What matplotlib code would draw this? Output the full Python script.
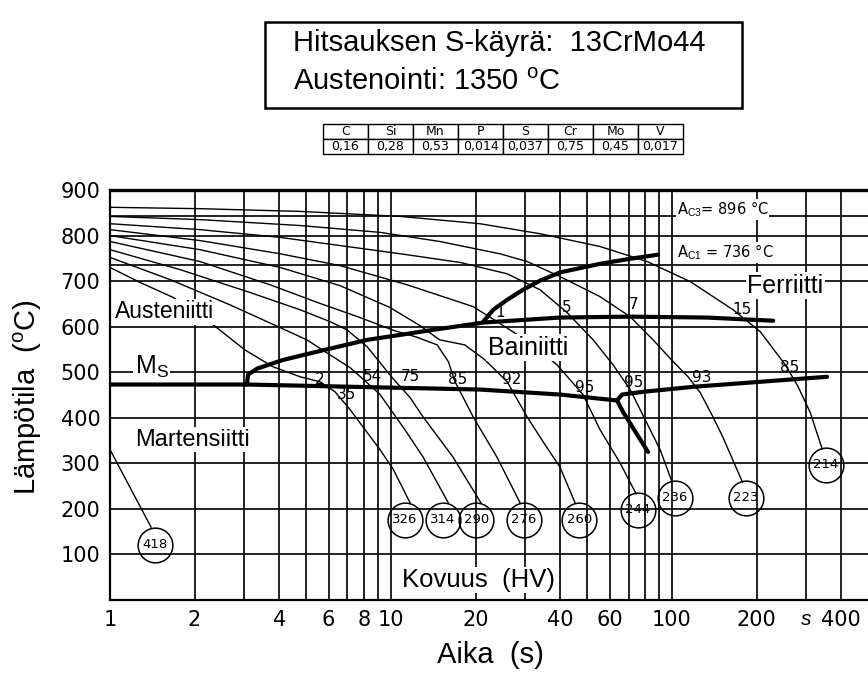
import matplotlib.pyplot as plt
from matplotlib.patches import Rectangle
from matplotlib.ticker import NullLocator

plt.rcParams['font.family'] = ['Liberation Sans', 'DejaVu Sans']
plt.rcParams['mathtext.fontset'] = 'custom'
plt.rcParams['mathtext.rm'] = 'Liberation Sans'
plt.rcParams['mathtext.it'] = 'Liberation Sans:italic'

title1 = 'Hitsauksen S-käyrä:  13CrMo44'
title2 = 'Austenointi: 1350 $^{\\rm o}$C'
elements = ['C', 'Si', 'Mn', 'P', 'S', 'Cr', 'Mo', 'V']
contents = ['0,16', '0,28', '0,53', '0,014', '0,037', '0,75', '0,45', '0,017']

# cooling curves, time (s) / temperature (C), ending at the hardness circle
c418_t = [1.0, 1.40]
c418_T = [330, 160]
c326_t = [1.0, 1.28, 1.68, 2.33, 3.02, 3.80, 4.75, 5.59, 6.32, 7.15, 8.08, 9.14, 10.2, 11.7]
c326_T = [730, 697, 664, 604, 549, 512, 490, 479, 457, 418, 374, 330, 286, 213]
c314_t = [1.0, 1.64, 2.67, 4.03, 5.02, 6.07, 7.15, 8.22, 9.14, 10.1, 11.2, 13.0, 16.0]
c314_T = [752, 703, 648, 598, 571, 538, 510, 477, 451, 413, 374, 314, 213]
c290_t = [1.0, 1.78, 3.15, 4.75, 6.07, 6.97, 8.22, 9.14, 10.1, 11.7, 13.0, 16.6, 20.9]
c290_T = [769, 725, 675, 637, 611, 593, 556, 521, 488, 444, 402, 314, 213]
c276_t = [1.0, 2.09, 3.71, 5.59, 7.76, 10.3, 12.2, 14.6, 16.0, 16.9, 19.6, 23.8, 28.8]
c276_T = [787, 743, 692, 651, 620, 591, 578, 560, 523, 479, 402, 314, 213]
c260_t = [1.0, 2.09, 4.03, 6.59, 9.92, 12.7, 14.9, 18.3, 21.6, 25.9, 30.5, 35.3, 39.9, 45.2]
c260_T = [800, 769, 730, 690, 642, 602, 571, 560, 527, 479, 402, 341, 292, 213]
c244_t = [1.0, 2.09, 4.03, 6.59, 11.4, 19.6, 26.5, 32.5, 39.0, 48.2, 55.4, 65.3, 74.5]
c244_T = [813, 789, 760, 734, 692, 644, 593, 556, 516, 451, 374, 301, 233]
c236_t = [1.0, 2.09, 4.03, 6.59, 10.8, 17.6, 25.9, 33.9, 42.3, 52.4, 61.7, 70.9, 80.2, 90.7, 100]
c236_T = [826, 813, 796, 778, 760, 741, 716, 681, 631, 571, 516, 462, 396, 330, 259]
c223_t = [1.0, 2.09, 4.75, 9.14, 14.9, 24.4, 30.5, 39.9, 55.4, 70.9, 85.6, 101, 114, 126, 139, 151, 178]
c223_T = [842, 835, 822, 807, 787, 760, 743, 710, 666, 622, 571, 523, 490, 455, 405, 360, 259]
c214_t = [1.0, 2.09, 4.75, 10.8, 20.7, 33.9, 55.4, 81.5, 116, 165, 206, 253, 280, 310, 342]
c214_T = [862, 859, 853, 842, 826, 804, 776, 743, 699, 637, 589, 516, 470, 412, 332]

hardness = ['418', '326', '314', '290', '276', '260', '244', '236', '223', '214']
circle_t = [1.45, 11.2, 15.3, 20.1, 29.7, 46.7, 75.7, 102.5, 183, 353]
circle_T = [121, 176, 176, 176, 176, 176, 198, 224, 224, 297]

# transformation lines
fs_t = [21.3, 23.1, 25.9, 29.5, 33.9, 39.9, 55.4, 70.9, 89.2]
fs_T = [611, 637, 659, 681, 701, 719, 738, 749, 758]
bs_t = [3.07, 3.10, 3.34, 4.13, 5.45, 8.22, 10.8, 14.1, 21.3, 39.9, 70.9, 133, 229]
bs_T = [473, 495, 508, 527, 545, 571, 582, 593, 609, 620, 622, 620, 613]
ms_t = [1.0, 3.07, 20.7, 39.9, 63.7]
ms_T = [473, 473, 462, 451, 438]
mf_t = [63.7, 66.9, 82.1]
mf_T = [438, 413, 325]
br_t = [63.7, 66.4, 78.9, 119, 206, 356]
br_T = [438, 451, 457, 468, 479, 490]

# percentages written on the curves
pct_text = ['2', '35', '54', '75', '85', '92', '95', '95', '93', '85', '1', '5', '7', '15']
pct_t = [5.59, 6.97, 8.56, 11.7, 17.3, 26.9, 49.0, 73.2, 127.8, 263, 24.4, 42.3, 73.2, 178]
pct_T = [484, 451, 490, 490, 484, 484, 466, 477, 488, 510, 631, 642, 648, 637]

ac_T = [842, 736]
x_ticks = [1, 2, 4, 6, 8, 10, 20, 40, 60, 100, 200, 300, 400]
x_labels = ['1', '2', '4', '6', '8', '10', '20', '40', '60', '100', '200', '$s$', '400']
y_ticks = [100, 200, 300, 400, 500, 600, 700, 800, 900]
grid_t = [1, 2, 3, 4, 5, 6, 7, 8, 9, 10, 20, 30, 40, 50, 60, 70, 80, 90, 100, 200, 300, 400]
grid_T = [100, 200, 300, 400, 500, 600, 700, 800]

fig = plt.figure(figsize=(8.68, 6.8), dpi=100)
ax = fig.add_axes([110 / 868, 80 / 680, 758 / 868, 410 / 680])
ax.set_xscale('log')
ax.set_xlim(1, 498)
ax.set_ylim(0, 900)

for g in grid_t:
    ax.axvline(g, color='#111111', lw=1.3, zorder=1)
for g in grid_T + ac_T:
    ax.axhline(g, color='#111111', lw=1.3, zorder=1)

curves = [(c418_t, c418_T), (c326_t, c326_T), (c314_t, c314_T), (c290_t, c290_T),
          (c276_t, c276_T), (c260_t, c260_T), (c244_t, c244_T), (c236_t, c236_T),
          (c223_t, c223_T), (c214_t, c214_T)]
for ct, cT in curves:
    ax.plot(ct, cT, color='black', lw=1.0, zorder=2)

for lt, lT in [(fs_t, fs_T), (bs_t, bs_T), (ms_t, ms_T), (mf_t, mf_T), (br_t, br_T)]:
    ax.plot(lt, lT, color='black', lw=3.0, solid_capstyle='round',
            solid_joinstyle='round', zorder=3)

ax.plot(circle_t, circle_T, 'o', ms=25, mfc='none', mec='black', mew=1.1, zorder=4)
for h, ct, cT in zip(hardness, circle_t, circle_T):
    ax.text(ct, cT, h, ha='center', va='center', fontsize=9.5,
            family='DejaVu Sans', zorder=5)

for s, pt, pT in zip(pct_text, pct_t, pct_T):
    ax.text(pt, pT, s, ha='center', va='center', fontsize=11,
            family='DejaVu Sans', zorder=5)

box = dict(facecolor='white', edgecolor='none', pad=1.0)
ax.text(1.04, 633, 'Austeniitti', fontsize=16.5, va='center', bbox=box, zorder=6)
ax.text(1.227, 352, 'Martensiitti', fontsize=17, va='center', bbox=box, zorder=6)
ax.text(1.227, 512, 'M$_{\\rm S}$', fontsize=18, va='center', bbox=box, zorder=6)
ax.text(22.1, 554, 'Bainiitti', fontsize=18, va='center', bbox=box, zorder=6)
ax.text(184.9, 690, 'Ferriitti', fontsize=18, va='center', bbox=box, zorder=6)
ax.text(10.9, 44, 'Kovuus  (HV)', fontsize=18.5, va='center', bbox=box, zorder=6)
ax.text(104, 857, 'A$_{\\rm C3}$= 896 °C', fontsize=10.5, va='center',
        family='DejaVu Sans', bbox=dict(facecolor='white', edgecolor='none', pad=0.5), zorder=6)
ax.text(104, 763, 'A$_{\\rm C1}$ = 736 °C', fontsize=10.5, va='center',
        family='DejaVu Sans', bbox=dict(facecolor='white', edgecolor='none', pad=0.5), zorder=6)

ax.xaxis.set_minor_locator(NullLocator())
ax.set_xticks(x_ticks, x_labels)
ax.set_yticks(y_ticks)
ax.tick_params(length=0, labelsize=15, pad=7)
for lbl in ax.get_xticklabels() + ax.get_yticklabels():
    if lbl.get_text() != '$s$':
        lbl.set_family('DejaVu Sans')

ax.spines['right'].set_visible(False)
ax.spines['top'].set_linewidth(2.4)
ax.spines['left'].set_linewidth(1.6)
ax.spines['bottom'].set_linewidth(1.6)

fig.text(28 / 868, 1 - 397 / 680, 'Lämpötila  ($^{\\rm o}$C)', rotation=90,
         fontsize=21, ha='center', va='center')
fig.text(490 / 868, 1 - 655 / 680, 'Aika  (s)', fontsize=21, ha='center', va='center')

fig.patches.append(Rectangle((265 / 868, 1 - 108 / 680), 477 / 868, 86 / 680,
                             transform=fig.transFigure, fill=False, lw=1.8,
                             edgecolor='black'))
fig.text(293 / 868, 1 - 43 / 680, title1, fontsize=21, va='center')
fig.text(293 / 868, 1 - 82 / 680, title2, fontsize=21, va='center')

ax_t = fig.add_axes([323 / 868, 1 - 154 / 680, 360 / 868, 30 / 680])
ax_t.axis('off')
tab = ax_t.table(cellText=[elements, contents], cellLoc='center', bbox=[0, 0, 1, 1])
tab.auto_set_font_size(False)
for cell in tab.get_celld().values():
    cell.set_linewidth(1.0)
    cell.get_text().set_fontsize(9)
    cell.get_text().set_family('DejaVu Sans')

fig.savefig('out.png', dpi=100)
